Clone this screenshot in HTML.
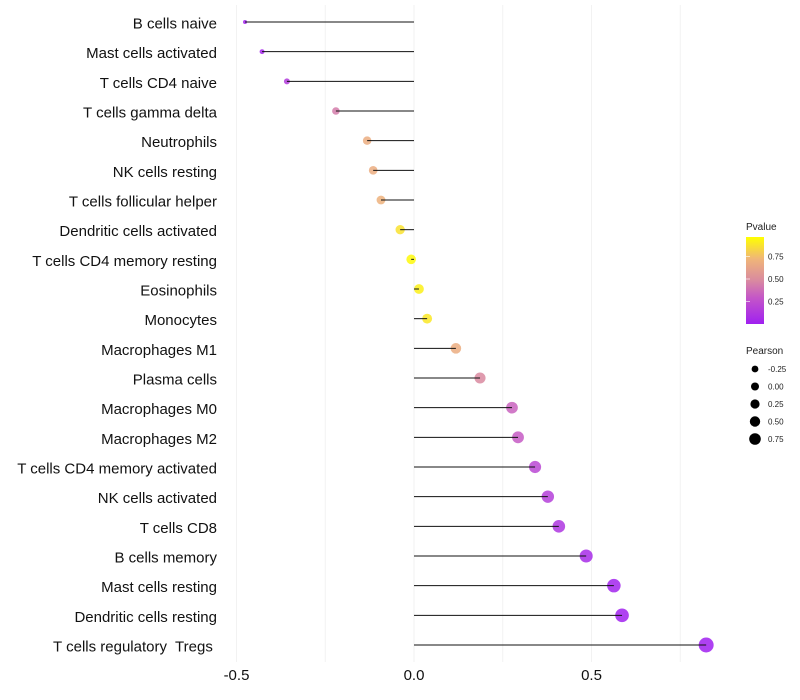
<!DOCTYPE html>
<html><head><meta charset="utf-8"><style>
body{margin:0;background:#fff;}
svg{display:block;font-family:"Liberation Sans",sans-serif;}
text{white-space:pre;}
</style></head><body>
<svg id="chart" width="800" height="700">
<defs><linearGradient id="pg" x1="0" y1="1" x2="0" y2="0">
<stop offset="0" stop-color="#a020f0"/><stop offset="0.3" stop-color="#c456c8"/><stop offset="0.5" stop-color="#d98aa0"/><stop offset="0.75" stop-color="#f0b678"/><stop offset="1" stop-color="#ffff00"/></linearGradient></defs>
<g id="grid"></g>
<g id="marks"></g>
<g id="ylab"></g>
<g id="xlab"></g>
<g>
<text x="746" y="230" font-size="10" fill="#222">Pvalue</text>
<rect x="746" y="237" width="18" height="87" fill="url(#pg)"/>
<g id="cbticks"></g>
</g>
<g id="sizeleg">
<text x="746" y="354" font-size="10" fill="#222">Pearson</text>
</g>
</svg>
<script>
const categories=["B cells naive","Mast cells activated","T cells CD4 naive","T cells gamma delta","Neutrophils","NK cells resting","T cells follicular helper","Dendritic cells activated","T cells CD4 memory resting","Eosinophils","Monocytes","Macrophages M1","Plasma cells","Macrophages M0","Macrophages M2","T cells CD4 memory activated","NK cells activated","T cells CD8","B cells memory","Mast cells resting","Dendritic cells resting","T cells regulatory  Tregs "];
const pearson=[-0.476,-0.428,-0.358,-0.22,-0.132,-0.115,-0.093,-0.039,-0.008,0.014,0.037,0.118,0.186,0.276,0.293,0.341,0.377,0.408,0.485,0.563,0.586,0.823];
const pvalue=[0.02,0.04,0.15,0.45,0.7,0.7,0.72,0.9,0.98,0.95,0.92,0.7,0.5,0.35,0.32,0.22,0.17,0.12,0.06,0.02,0.01,0.001];
const xTicks=[-0.5,0,0.5];
const xTickLabels=["-0.5","0.0","0.5"];
const gridVals=[-0.5,-0.25,0,0.25,0.5,0.75];
const cbTicks=[0.25,0.5,0.75];
const sizeLegend=[-0.25,0,0.25,0.5,0.75];
const NS="http://www.w3.org/2000/svg";
const X=v=>414+v*355;
const Y=i=>22+i*(623/21);
const R=v=>Math.sqrt(4+40*Math.max(0,v+0.48));
const stops=[[0,[160,32,240]],[0.3,[196,86,200]],[0.5,[217,138,160]],[0.75,[240,182,120]],[1,[255,255,0]]];
function col(p){for(let k=1;k<stops.length;k++){if(p<=stops[k][0]){const a=stops[k-1],b=stops[k],t=(p-a[0])/(b[0]-a[0]);return "rgb("+a[1].map((c,j)=>Math.round(c+(b[1][j]-c)*t)).join(",")+")";}}return "rgb(255,255,0)";}
function mk(tag,at,parent){const e=document.createElementNS(NS,tag);for(const k in at)e.setAttribute(k,at[k]);document.getElementById(parent).appendChild(e);return e;}
gridVals.forEach(v=>{const l=mk("line",{x1:X(v),x2:X(v),y1:5,y2:662,stroke:"#f2f2f2","stroke-width":1},"grid");

});
categories.forEach((c,i)=>{
const y=Y(i);
const pt=mk("circle",{cx:X(pearson[i]),cy:y,r:R(pearson[i]),fill:col(pvalue[i]),"fill-opacity":0.85},"marks");


const ln=mk("line",{x1:X(0),x2:X(pearson[i]),y1:y,y2:y,stroke:"#111","stroke-width":1},"marks");


const t=mk("text",{x:217,y:y+6.5,"text-anchor":"end","font-size":15,fill:"#111"},"ylab");t.textContent=c;


});
xTicks.forEach((v,i)=>{const t=mk("text",{x:X(v),y:680,"text-anchor":"middle","font-size":15,fill:"#111"},"xlab");t.textContent=xTickLabels[i];

});
cbTicks.forEach(v=>{const y=324-v*90;
const l=mk("line",{x1:746,x2:750,y1:y,y2:y,stroke:"#fff","stroke-opacity":0.6},"cbticks");


const t=mk("text",{x:768,y:y+3,"font-size":8,fill:"#222"},"cbticks");t.textContent=v.toFixed(2);

});
sizeLegend.forEach((v,i)=>{const y=369+i*17.5;
const c=mk("circle",{cx:755,cy:y,r:3.4+i*0.6,fill:"#000"},"sizeleg");


const t=mk("text",{x:768,y:y+3,"font-size":8,fill:"#222"},"sizeleg");t.textContent=v.toFixed(2);

});
</script>
</body></html>
